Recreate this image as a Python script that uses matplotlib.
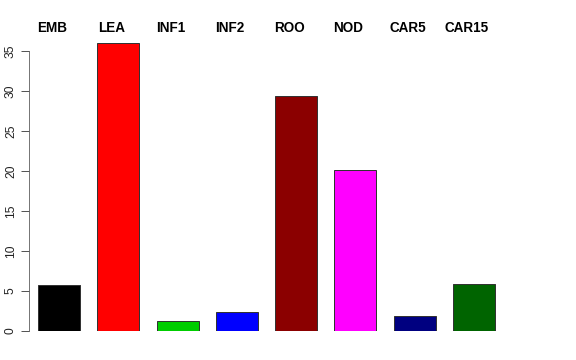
import matplotlib
matplotlib.use("Agg")
import matplotlib.pyplot as plt
import matplotlib.transforms as mtransforms

categories = ["EMB", "LEA", "INF1", "INF2", "ROO", "NOD", "CAR5", "CAR15"]
values = [5.8, 36.0, 1.25, 2.4, 29.4, 20.1, 1.9, 5.9]
colors = ["#000000", "#FF0000", "#00CD00", "#0000FF", "#8B0000", "#FF00FF", "#000080", "#006400"]
yticks = [0, 5, 10, 15, 20, 25, 30, 35]

plt.rcParams['font.family'] = ['Liberation Sans', 'DejaVu Sans']

fig = plt.figure(figsize=(8, 5), dpi=72)
ax = fig.add_axes([29/576, 29/360, 531/576, 288/360])
x = list(range(len(categories)))
ax.bar(x, values, width=0.708, color=colors, edgecolor="#333333", linewidth=1)
ax.set_xlim(-0.506, 8.45)
ax.set_ylim(0, 36)
for s in ["top", "right", "bottom"]:
    ax.spines[s].set_visible(False)
ax.spines["left"].set_bounds(0, 35)
ax.spines["left"].set_color("#555555")
ax.set_xticks([])
ax.set_yticks(yticks)
ax.set_yticklabels([str(t) for t in yticks], rotation=90, va="center", fontsize=12)
ax.tick_params(axis="y", direction="out", length=8, width=1, color="#555555", pad=4, labelcolor="#222222")

trans = mtransforms.blended_transform_factory(ax.transData, fig.transFigure)
for i, c in enumerate(categories):
    ax.text(i - 0.12, (360 - 28) / 360, c, transform=trans, ha="center", va="center",
            fontsize=13.5, fontweight="bold")

fig.savefig("out.png", dpi=72)
